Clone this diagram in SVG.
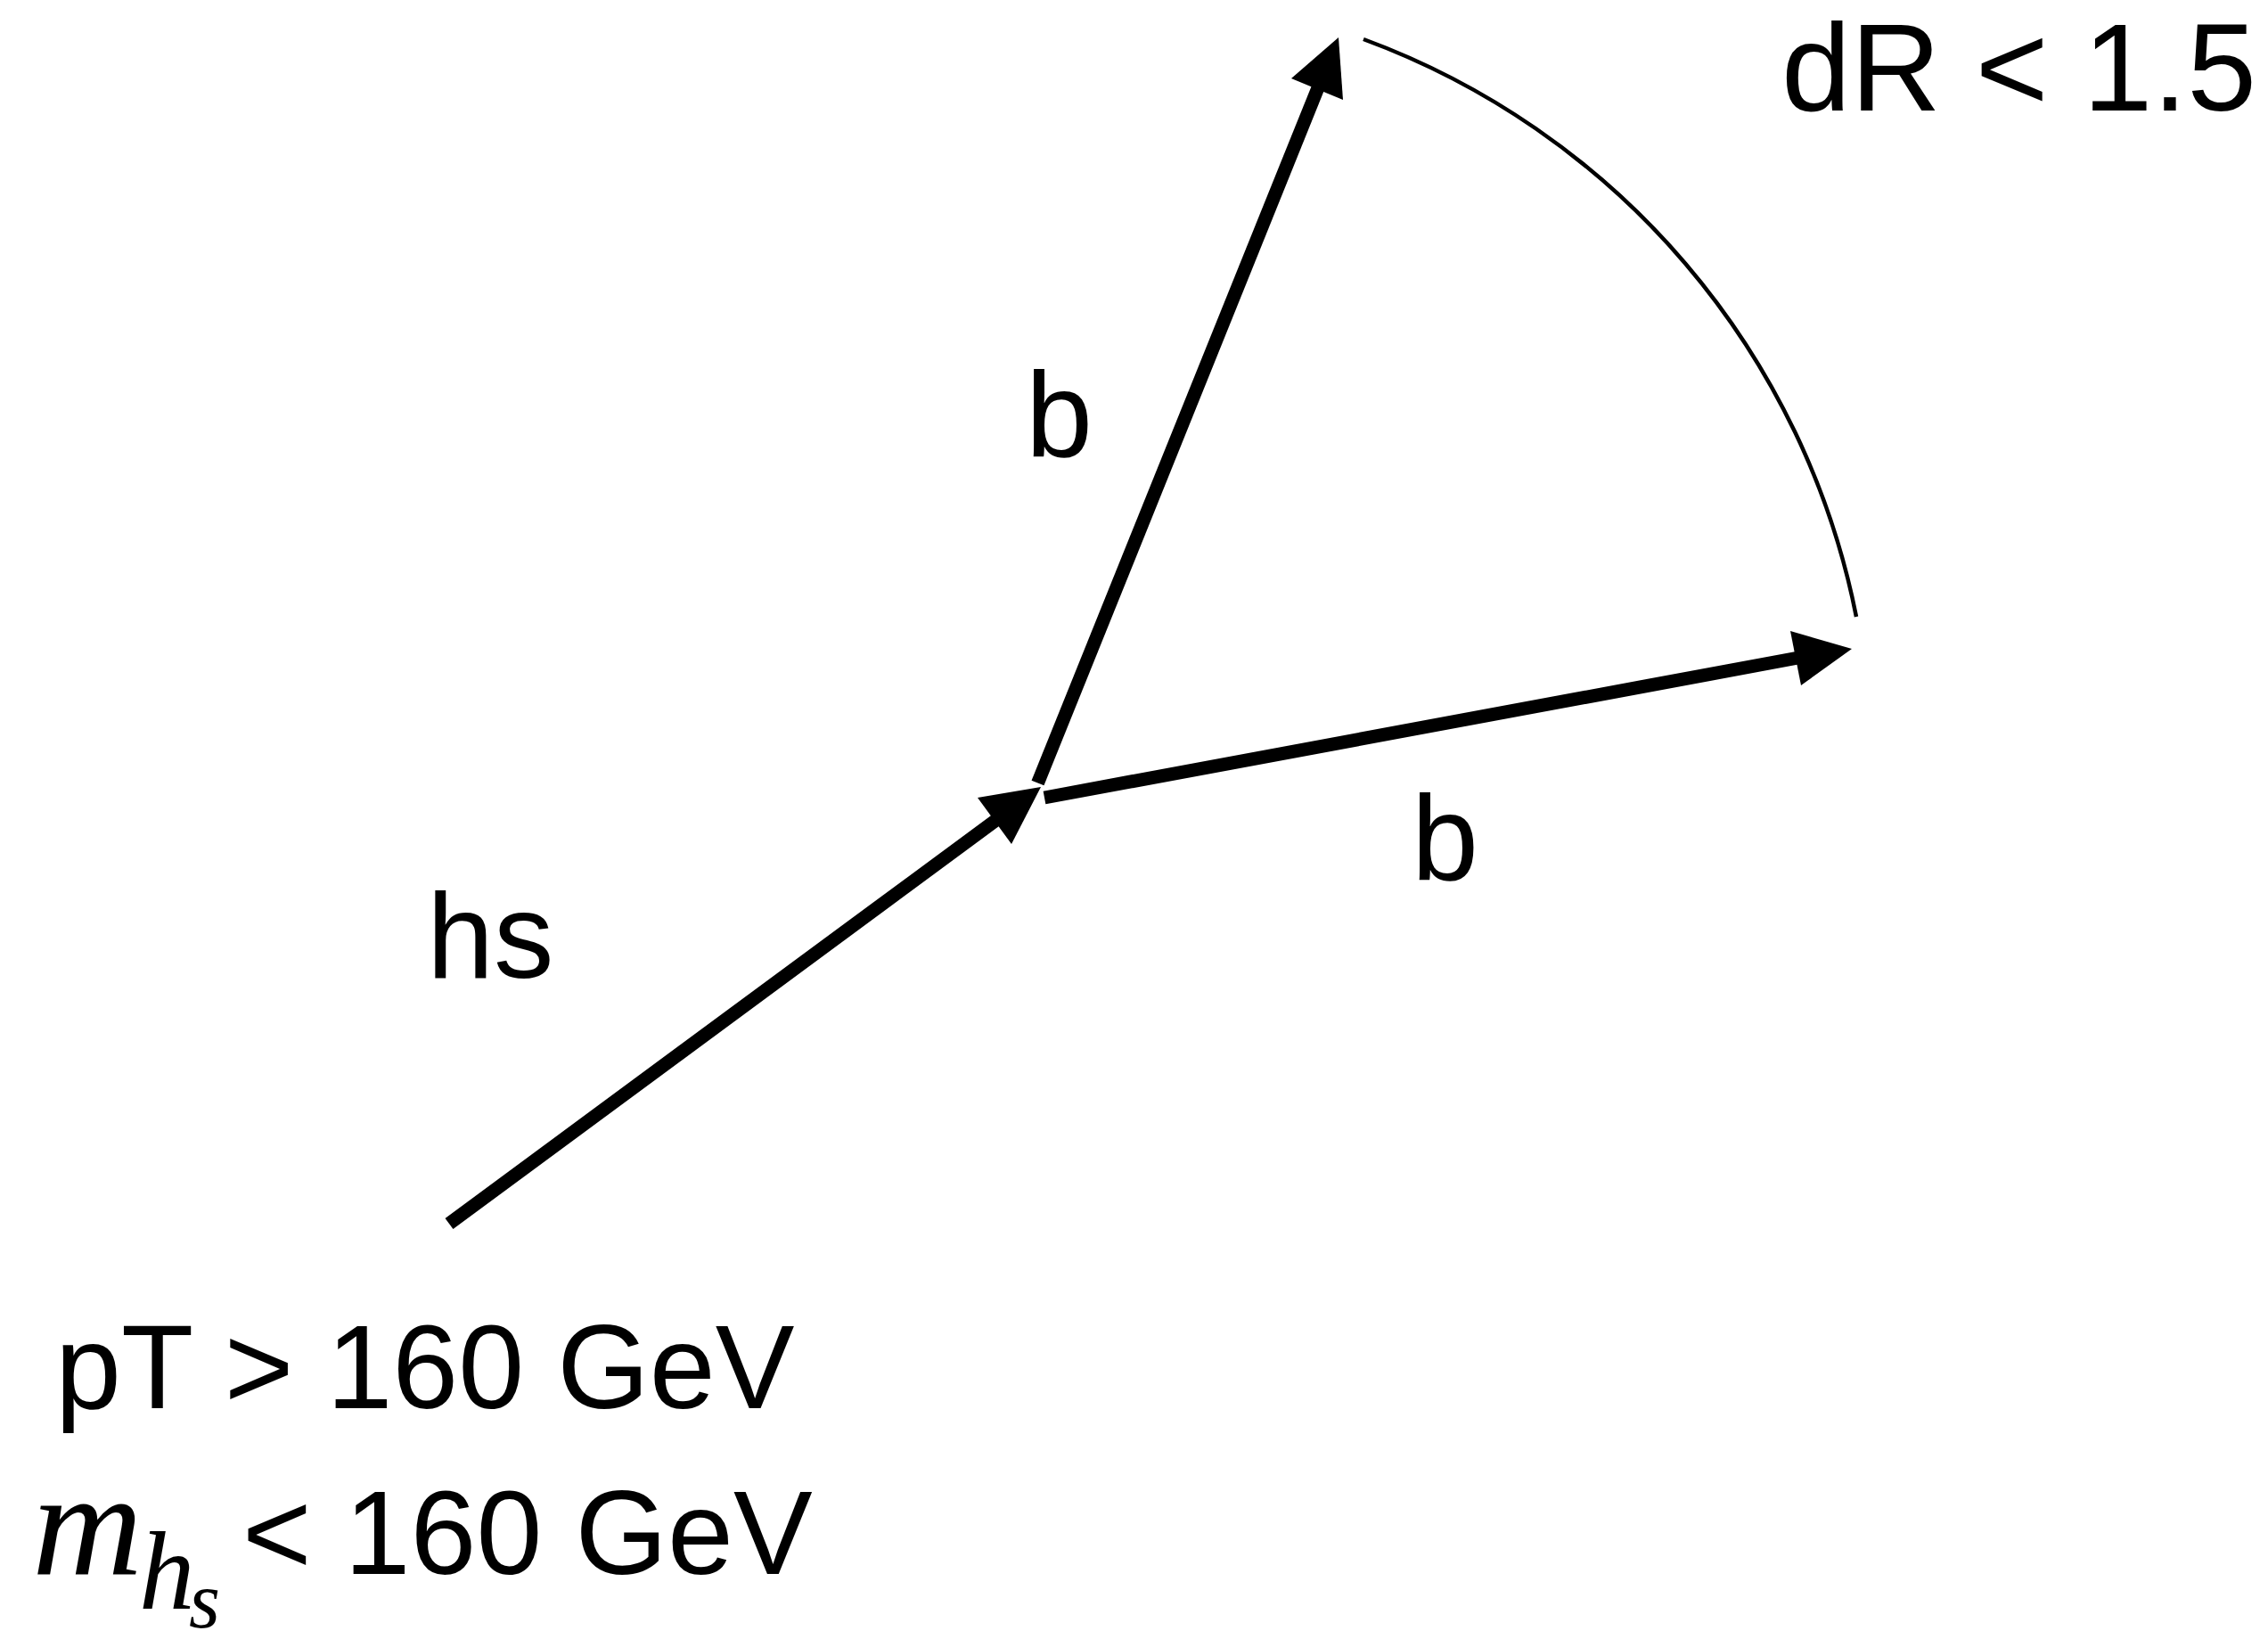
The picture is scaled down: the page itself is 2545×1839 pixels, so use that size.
<svg xmlns="http://www.w3.org/2000/svg" width="2545" height="1839" viewBox="0 0 2545 1839">
<style>
.shaft{stroke:#000;stroke-width:15;fill:none;stroke-linecap:butt}
.head{fill:#000;stroke:none}
.arc{stroke:#000;stroke-width:4.5;fill:none}
.lbl{font-family:"Liberation Sans",Arial,Helvetica,sans-serif;fill:#000}
.math{font-family:"Liberation Serif","Times New Roman",serif;font-style:italic;fill:#000}
</style>
<rect width="2545" height="1839" fill="#fff"/>
<g id="connectors">
<g id="edge-hs">
<line class="shaft" x1="504" y1="1373" x2="1122" y2="917"/>
<polygon class="head" points="1168,883 1097,895 1135,947"/>
</g>
<g id="edge-b-upper">
<line class="shaft" x1="1164.5" y1="878.5" x2="1480" y2="96"/>
<polygon class="head" points="1502,42 1449,88 1507,112"/>
</g>
<g id="edge-b-right">
<line class="shaft" x1="1172" y1="895" x2="2018" y2="738"/>
<polygon class="head" points="2078,728 2009,708 2021,769"/>
</g>
<path id="dR-arc" class="arc" d="M1530,44 A870,870 0 0 1 2083,692"/>
</g>
<g id="label-hs"><text class="lbl" x="479" y="1097" font-size="135">hs</text></g>
<g id="label-b-upper"><text class="lbl" x="1151" y="512" font-size="135">b</text></g>
<g id="label-b-right"><text class="lbl" x="1584" y="987" font-size="135">b</text></g>
<g id="label-dR"><text class="lbl" x="1999" y="124" font-size="140">dR &lt; 1.5</text></g>
<g id="label-pT"><text class="lbl" x="62" y="1580" font-size="133">pT &gt; 160 GeV</text></g>
<g id="label-mass">
<text class="math" x="36" y="1766" font-size="168" textLength="124" lengthAdjust="spacingAndGlyphs">m</text>
<text class="math" x="156" y="1805" font-size="125">h</text>
<text class="math" x="212" y="1826" font-size="90">s</text>
<text class="lbl" x="272" y="1766" font-size="133">&lt; 160 GeV</text>
</g>
</svg>
